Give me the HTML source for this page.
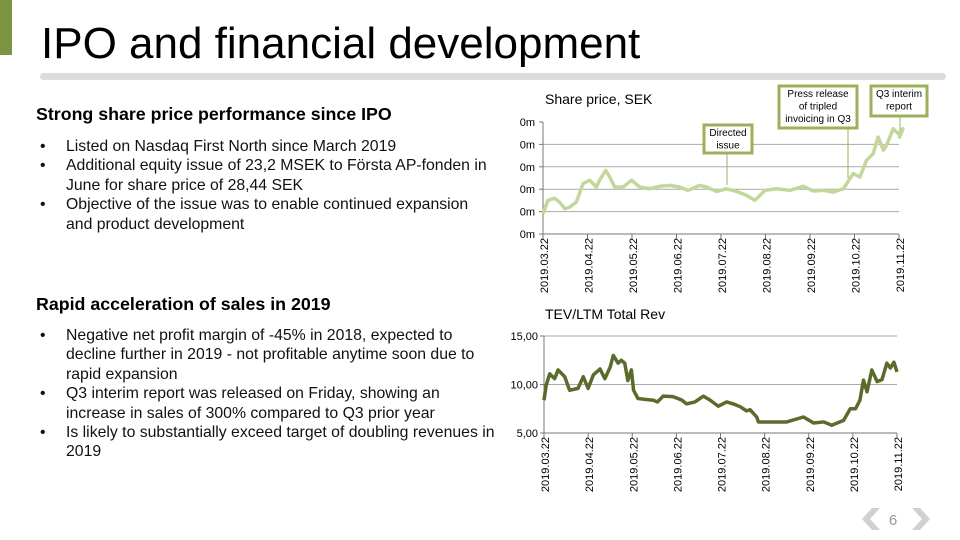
<!DOCTYPE html>
<html><head><meta charset="utf-8">
<style>
body{margin:0;width:960px;height:540px;overflow:hidden;background:#fff;font-family:"Liberation Sans",Arial,sans-serif;position:relative}
.abs{position:absolute}
.h{font-weight:bold;font-size:17.8px;color:#000;white-space:nowrap}
ul{margin:0;padding:0;list-style:none}
li{position:relative;padding-left:30px;font-size:15.8px;line-height:19.4px;color:#111;white-space:nowrap}
li:before{content:"•";position:absolute;left:4px}
</style></head><body>
<div class="abs" style="left:0;top:0;width:12px;height:55px;background:#7b9441"></div>
<div class="abs" style="left:41px;top:18px;font-size:44px;line-height:52px;color:#000;white-space:nowrap">IPO and financial development</div>
<div class="abs" style="left:40px;top:73px;width:906px;height:7px;background:#dcdcdc;border-radius:4px"></div>

<div class="abs h" style="left:36px;top:104px">Strong share price performance since IPO</div>
<ul class="abs" style="left:36px;top:137px;width:470px">
<li>Listed on Nasdaq First North since March 2019</li>
<li>Additional equity issue of 23,2 MSEK to Första AP-fonden in<br>June for share price of 28,44 SEK</li>
<li>Objective of the issue was to enable continued expansion<br>and product development</li>
</ul>
<div class="abs h" style="left:36px;top:294px">Rapid acceleration of sales in 2019</div>
<ul class="abs" style="left:36px;top:326px;width:470px">
<li>Negative net profit margin of -45% in 2018, expected to<br>decline further in 2019 - not profitable anytime soon due to<br>rapid expansion</li>
<li>Q3 interim report was released on Friday, showing an<br>increase in sales of 300% compared to Q3 prior year</li>
<li>Is likely to substantially exceed target of doubling revenues in<br>2019</li>
</ul>

<svg class="abs" style="left:0;top:0" width="960" height="540">
<g id="top"></g>
<g id="bot"></g>
<g>
<polygon points="872,508 862,519 872,530 880,530 870,519 880,508" fill="#d0d0d0"/>
<text x="893" y="525" font-size="15" fill="#999" text-anchor="middle">6</text>
<polygon points="912,508 922,519 912,530 920,530 930,519 920,508" fill="#d0d0d0"/>
</g>
</svg>
<script>
const months=["2019.03.22","2019.04.22","2019.05.22","2019.06.22","2019.07.22","2019.08.22","2019.09.22","2019.10.22","2019.11.22"];
const shareX=[0,0.11,0.26,0.37,0.49,0.6,0.75,0.9,1.05,1.2,1.27,1.41,1.5,1.61,1.8,1.99,2.17,2.4,2.62,2.85,3.07,3.26,3.52,3.67,3.9,4.12,4.35,4.57,4.76,4.99,5.25,5.55,5.85,6.07,6.3,6.52,6.75,6.97,7.12,7.27,7.42,7.53,7.65,7.72,7.87,7.98,8.09,8.0];
const shareVal=[0.9,1.5,1.6,1.43,1.13,1.2,1.43,2.25,2.4,2.1,2.4,2.84,2.54,2.1,2.1,2.4,2.1,2.02,2.13,2.17,2.1,1.95,2.17,2.1,1.9,2.02,1.9,1.73,1.5,1.95,2.02,1.95,2.13,1.92,1.95,1.87,2.02,2.7,2.54,3.29,3.59,4.33,3.74,3.96,4.7,4.48,4.7,4.26];
const shareTicks=["0m","0m","0m","0m","0m","0m"];
const tevX=[0,0.05,0.13,0.24,0.32,0.47,0.58,0.77,0.89,1.0,1.12,1.27,1.38,1.5,1.57,1.68,1.75,1.83,1.9,1.98,2.03,2.13,2.32,2.48,2.57,2.7,2.92,3.12,3.23,3.42,3.61,3.76,3.95,4.14,4.29,4.45,4.59,4.67,4.82,4.86,5.12,5.35,5.5,5.88,6.11,6.34,6.52,6.79,6.94,7.06,7.16,7.24,7.32,7.43,7.55,7.66,7.77,7.85,7.93,8.0];
const tevVal=[8.38,9.93,11.1,10.6,11.5,10.8,9.4,9.6,10.8,9.6,11.0,11.6,10.6,11.8,13.0,12.2,12.5,12.2,10.4,11.5,9.4,8.55,8.45,8.38,8.2,8.8,8.75,8.4,8.0,8.2,8.8,8.4,7.76,8.2,8.0,7.7,7.28,7.4,6.65,6.14,6.14,6.14,6.14,6.65,6.03,6.14,5.8,6.3,7.5,7.5,8.38,10.45,9.25,11.5,10.3,10.5,12.2,11.7,12.3,11.3];
const tevTicks=[5,10,15];
const NS="http://www.w3.org/2000/svg";
function mk(p,t,a,txt){const e=document.createElementNS(NS,t);for(const k in a)e.setAttribute(k,a[k]);if(txt!=null)e.textContent=txt;p.appendChild(e);return e;}
function xAxis(g,x0,x1,yb){
 const sx=v=>x0+(x1-x0)*v/(months.length-1);
 months.forEach((m,i)=>{
  const l=mk(g,"line",{x1:sx(i),x2:sx(i),y1:yb,y2:yb+5,stroke:"#777"});
  
  
  const t=mk(g,"text",{x:0,y:0,transform:`translate(${sx(i)+5},${yb+4}) rotate(-90)`,"font-size":"11","text-anchor":"end",fill:"#000"},m);
  
  
 });
 mk(g,"line",{x1:x0,x2:x1,y1:yb,y2:yb,stroke:"#777"});
 return sx;
}
(function(){
 const g=document.getElementById('top');
 const x0=543,x1=899,yb=234,yt=122;
 const sy=v=>yb-(yb-yt)*v/5;
 mk(g,"text",{x:545,y:104,"font-size":"14",fill:"#000"},"Share price, SEK");
 shareTicks.forEach((t,i)=>{
  if(i>0&&i<5){const l=mk(g,"line",{x1:x0,x2:x1,y1:sy(i),y2:sy(i),stroke:"#aaa"});}
  mk(g,"line",{x1:x0-4,x2:x0,y1:sy(i),y2:sy(i),stroke:"#777"});
  const tx=mk(g,"text",{x:535,y:sy(i)+4,"font-size":"11","text-anchor":"end"},t);
  
  
 });
 mk(g,"line",{x1:x0,x2:x0,y1:yt,y2:yb,stroke:"#777"});
 xAxis(g,x0,x1,yb);
 const sxv=v=>x0+(x1-x0)*v/8;
 const p=mk(g,"polyline",{points:shareX.map((x,i)=>sxv(x)+","+sy(shareVal[i])).join(" "),fill:"none",stroke:"#c4d79b","stroke-width":"3.5","stroke-linejoin":"round"});
 
 
 const notes=[["directed-issue-callout",704,125,48,28,["Directed","issue"],727,153,185],["press-release-callout",779,86,78,42,["Press release","of tripled","invoicing in Q3"],848,128,178],["q3-report-callout",871,86,56,30,["Q3 interim","report"],900,116,130]];
 notes.forEach(n=>{
  const gg=mk(g,"g",{});
  
  
  mk(gg,"line",{x1:n[6],x2:n[6],y1:n[7],y2:n[8],stroke:"#9bb05a"});
  mk(gg,"rect",{x:n[1],y:n[2],width:n[3],height:n[4],fill:"#fff",stroke:"#9bb05a","stroke-width":"3"});
  n[5].forEach((s,i)=>mk(gg,"text",{x:n[1]+n[3]/2,y:n[2]+11+i*12.5,"font-size":"10","text-anchor":"middle"},s));
 });
})();
(function(){
 const g=document.getElementById('bot');
 const x0=544,x1=897,yb=433,yt=336;
 const sy=v=>yb-(yb-yt)*(v-5)/10;
 mk(g,"text",{x:545,y:319,"font-size":"14",fill:"#000"},"TEV/LTM Total Rev");
 tevTicks.forEach((t,i)=>{
  if(i>0){const l=mk(g,"line",{x1:x0,x2:x1,y1:sy(t),y2:sy(t),stroke:"#aaa"});}
  mk(g,"line",{x1:x0-4,x2:x0,y1:sy(t),y2:sy(t),stroke:"#777"});
  const tx=mk(g,"text",{x:538,y:sy(t)+4,"font-size":"11","text-anchor":"end"},t.toFixed(2).replace(".",","));
  
  
 });
 mk(g,"line",{x1:x0,x2:x0,y1:yt,y2:yb,stroke:"#777"});
 xAxis(g,x0,x1,yb);
 const sxv=v=>x0+(x1-x0)*v/8;
 const p=mk(g,"polyline",{points:tevX.map((x,i)=>sxv(x)+","+sy(tevVal[i])).join(" "),fill:"none",stroke:"#5b6b2c","stroke-width":"3.5","stroke-linejoin":"round"});
 
 
})();
</script>
</body></html>
